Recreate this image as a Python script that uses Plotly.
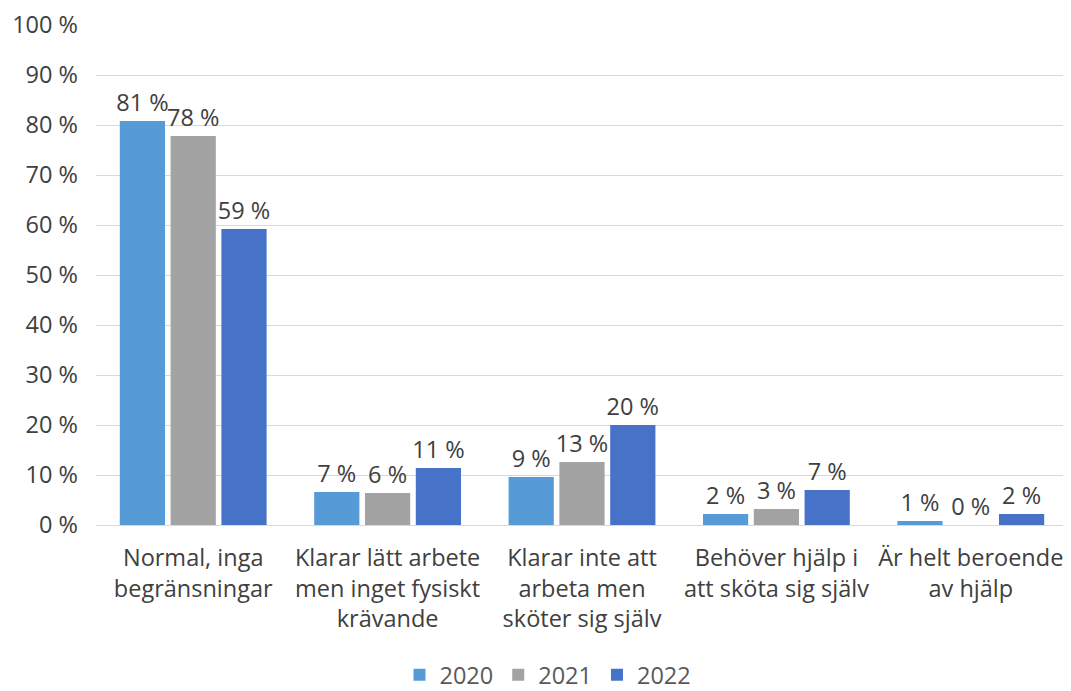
import plotly.graph_objects as go

# ------Data--------
categories = [
    "Normal, inga<br>begränsningar",
    "Klarar lätt arbete<br>men inget fysiskt<br>krävande",
    "Klarar inte att<br>arbeta men<br>sköter sig själv",
    "Behöver hjälp i<br>att sköta sig själv",
    "Är helt beroende<br>av hjälp",
]
years = ["2020", "2021", "2022"]
values_2020 = [80.8, 6.6, 9.6, 2.2, 0.8]
values_2021 = [77.8, 6.4, 12.6, 3.2, 0.0]
values_2022 = [59.2, 11.4, 20.0, 7.0, 2.2]
labels_2020 = ["81 %", "7 %", "9 %", "2 %", "1 %"]
labels_2021 = ["78 %", "6 %", "13 %", "3 %", "0 %"]
labels_2022 = ["59 %", "11 %", "20 %", "7 %", "2 %"]

colors = ["#569bd8", "#a3a3a3", "#4673c8"]
font = "Open Sans, Liberation Sans, sans-serif"
fs = 23.5

# ------Graph Generation--------
fig = go.Figure()
for year, vals, labs, col in zip(years,
                                 [values_2020, values_2021, values_2022],
                                 [labels_2020, labels_2021, labels_2022],
                                 colors):
    fig.add_trace(go.Bar(
        x=categories, y=vals, name=year, text=labs,
        textposition="outside", cliponaxis=False, constraintext="none",
        textfont=dict(size=fs, color="#404040", family=font),
        marker=dict(color=col, line_width=0),
    ))

# --------Graph Layout Updates -----------
fig.update_layout(
    width=1071, height=691,
    margin=dict(l=88, r=11, t=17, b=174, autoexpand=False),
    plot_bgcolor="white", paper_bgcolor="white",
    barmode="group", bargap=0.216, bargroupgap=0.11,
    font=dict(family=font, size=fs, color="#404040"),
    legend=dict(orientation="h", x=0.465, xanchor="center", y=-0.3, yanchor="middle",
                font=dict(size=fs, color="#595959"), traceorder="normal"),
)
fig.update_yaxes(range=[0, 100], dtick=10, ticksuffix=" %", showgrid=True,
                 gridcolor="#d9d9d9", gridwidth=1, zeroline=False, automargin=False,
                 tickfont=dict(size=fs, color="#404040"), ticks="", ticklabelstandoff=17)
fig.update_xaxes(showline=True, linecolor="#d9d9d9", linewidth=1, automargin=False,
                 tickfont=dict(size=fs, color="#404040"), ticks="", ticklabelstandoff=12)

fig.write_html("out.html")
